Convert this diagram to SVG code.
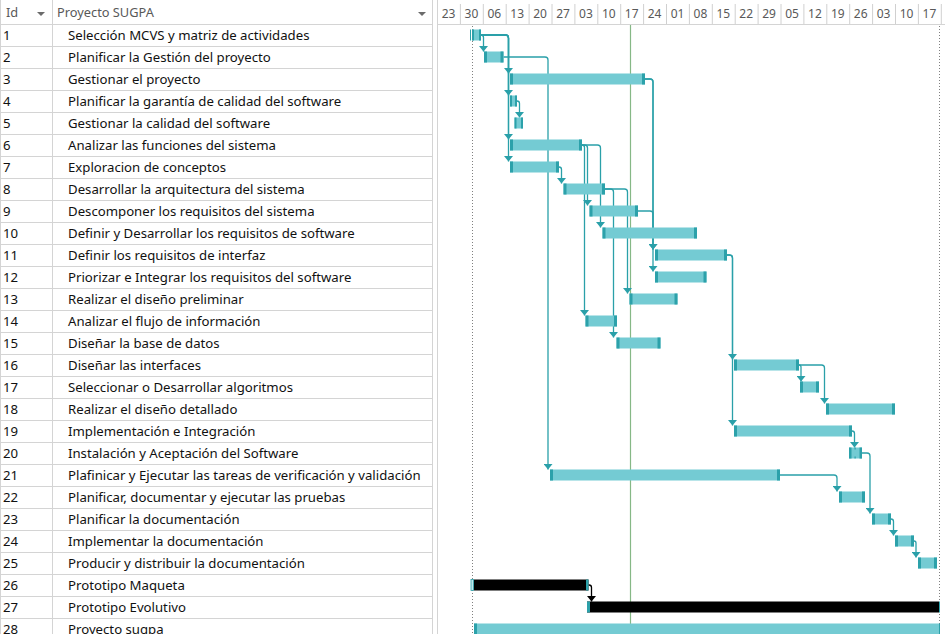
<svg xmlns="http://www.w3.org/2000/svg" width="945" height="634" viewBox="0 0 945 634">
<style>
.bg{fill:#ffffff}
.grid{stroke:#d4d4d4;stroke-width:1;fill:none}
.hdr{font-family:"Noto Sans","Open Sans",sans-serif;font-size:12.8px;fill:#595959}
.wk{font-family:"Noto Sans","Open Sans",sans-serif;font-size:12px;fill:#595959;text-anchor:middle}
.id{font-family:"Noto Sans","Open Sans",sans-serif;font-size:13.2px;fill:#111}
.nm{font-family:"Noto Sans","Open Sans",sans-serif;font-size:13.2px;fill:#111}
.bar{fill:#74cbd3}
.cap{fill:#2ca1aa}
.blk{fill:#000}
.con{stroke:#2aa0a9;stroke-width:1.3;fill:none;marker-end:url(#arr)}
.conb{stroke:#000;stroke-width:1.3;fill:none;marker-end:url(#arrb)}
.dot{stroke:#808080;stroke-width:1;stroke-dasharray:1 2;fill:none}
.today{stroke:#86b886;stroke-width:1.2}
.tick{stroke:#d0d0d0;stroke-width:1}
</style>
<defs>
<marker id="arr" viewBox="0 0 5.5 9" refX="5.5" refY="4.5" markerWidth="5.5" markerHeight="9" markerUnits="userSpaceOnUse" orient="auto"><path d="M0,0 L5.5,4.5 L0,9 z" fill="#2aa0a9"/></marker>
<marker id="arrb" viewBox="0 0 5.5 9" refX="5.5" refY="4.5" markerWidth="5.5" markerHeight="9" markerUnits="userSpaceOnUse" orient="auto"><path d="M0,0 L5.5,4.5 L0,9 z" fill="#000"/></marker>
</defs>
<rect class="bg" x="0" y="0" width="945" height="634"/>

<g id="table">
<line class="grid" x1="0.5" y1="0" x2="0.5" y2="634"/>
<line class="grid" x1="52.5" y1="0" x2="52.5" y2="634"/>
<line class="grid" x1="432.5" y1="0" x2="432.5" y2="634"/>
<line class="grid" x1="437.5" y1="0" x2="437.5" y2="634"/>
<line class="grid" x1="0" y1="24.5" x2="432" y2="24.5"/>
<line class="grid" x1="437" y1="24.5" x2="945" y2="24.5"/>
<g class="grid">
<line x1="0" y1="46.5" x2="432" y2="46.5"/><line x1="0" y1="68.5" x2="432" y2="68.5"/><line x1="0" y1="90.5" x2="432" y2="90.5"/><line x1="0" y1="112.5" x2="432" y2="112.5"/><line x1="0" y1="134.5" x2="432" y2="134.5"/><line x1="0" y1="156.5" x2="432" y2="156.5"/><line x1="0" y1="178.5" x2="432" y2="178.5"/><line x1="0" y1="200.5" x2="432" y2="200.5"/><line x1="0" y1="222.5" x2="432" y2="222.5"/><line x1="0" y1="244.5" x2="432" y2="244.5"/><line x1="0" y1="266.5" x2="432" y2="266.5"/><line x1="0" y1="288.5" x2="432" y2="288.5"/><line x1="0" y1="310.5" x2="432" y2="310.5"/><line x1="0" y1="332.5" x2="432" y2="332.5"/><line x1="0" y1="354.5" x2="432" y2="354.5"/><line x1="0" y1="376.5" x2="432" y2="376.5"/><line x1="0" y1="398.5" x2="432" y2="398.5"/><line x1="0" y1="420.5" x2="432" y2="420.5"/><line x1="0" y1="442.5" x2="432" y2="442.5"/><line x1="0" y1="464.5" x2="432" y2="464.5"/><line x1="0" y1="486.5" x2="432" y2="486.5"/><line x1="0" y1="508.5" x2="432" y2="508.5"/><line x1="0" y1="530.5" x2="432" y2="530.5"/><line x1="0" y1="552.5" x2="432" y2="552.5"/><line x1="0" y1="574.5" x2="432" y2="574.5"/><line x1="0" y1="596.5" x2="432" y2="596.5"/><line x1="0" y1="618.5" x2="432" y2="618.5"/>
</g>
<text class="hdr" x="6" y="17">Id</text>
<path d="M37,12 L45,12 L41,16 z" fill="#6b6b6b"/>
<text class="hdr" x="57" y="17">Proyecto SUGPA</text>
<path d="M418,12 L426,12 L422,16 z" fill="#6b6b6b"/>
<g class="id">
<text x="3" y="40">1</text><text x="3" y="62">2</text><text x="3" y="84">3</text><text x="3" y="106">4</text><text x="3" y="128">5</text><text x="3" y="150">6</text><text x="3" y="172">7</text><text x="3" y="194">8</text><text x="3" y="216">9</text><text x="3" y="238">10</text><text x="3" y="260">11</text><text x="3" y="282">12</text><text x="3" y="304">13</text><text x="3" y="326">14</text><text x="3" y="348">15</text><text x="3" y="370">16</text><text x="3" y="392">17</text><text x="3" y="414">18</text><text x="3" y="436">19</text><text x="3" y="458">20</text><text x="3" y="480">21</text><text x="3" y="502">22</text><text x="3" y="524">23</text><text x="3" y="546">24</text><text x="3" y="568">25</text><text x="3" y="590">26</text><text x="3" y="612">27</text><text x="3" y="633.5">28</text>
</g>
<g class="nm">
<text x="68" y="40">Selección MCVS y matriz de actividades</text>
<text x="68" y="62">Planificar la Gestión del proyecto</text>
<text x="68" y="84">Gestionar el proyecto</text>
<text x="68" y="106">Planificar la garantía de calidad del software</text>
<text x="68" y="128">Gestionar la calidad del software</text>
<text x="68" y="150">Analizar las funciones del sistema</text>
<text x="68" y="172">Exploracion de conceptos</text>
<text x="68" y="194">Desarrollar la arquitectura del sistema</text>
<text x="68" y="216">Descomponer los requisitos del sistema</text>
<text x="68" y="238">Definir y Desarrollar los requisitos de software</text>
<text x="68" y="260">Definir los requisitos de interfaz</text>
<text x="68" y="282">Priorizar e Integrar los requisitos del software</text>
<text x="68" y="304">Realizar el diseño preliminar</text>
<text x="68" y="326">Analizar el flujo de información</text>
<text x="68" y="348">Diseñar la base de datos</text>
<text x="68" y="370">Diseñar las interfaces</text>
<text x="68" y="392">Seleccionar o Desarrollar algoritmos</text>
<text x="68" y="414">Realizar el diseño detallado</text>
<text x="68" y="436">Implementación e Integración</text>
<text x="68" y="458">Instalación y Aceptación del Software</text>
<text x="68" y="480">Plafinicar y Ejecutar las tareas de verificación y validación</text>
<text x="68" y="502">Planificar, documentar y ejecutar las pruebas</text>
<text x="68" y="524">Planificar la documentación</text>
<text x="68" y="546">Implementar la documentación</text>
<text x="68" y="568">Producir y distribuir la documentación</text>
<text x="68" y="590">Prototipo Maqueta</text>
<text x="68" y="612">Prototipo Evolutivo</text>
<text x="68" y="633.5">Proyecto sugpa</text>
</g>
</g>

<g id="timescale">
<g class="tick">
<line x1="460.4" y1="4" x2="460.4" y2="24"/><line x1="483.3" y1="4" x2="483.3" y2="24"/><line x1="506.2" y1="4" x2="506.2" y2="24"/><line x1="529.1" y1="4" x2="529.1" y2="24"/><line x1="552" y1="4" x2="552" y2="24"/><line x1="574.9" y1="4" x2="574.9" y2="24"/><line x1="597.8" y1="4" x2="597.8" y2="24"/><line x1="620.7" y1="4" x2="620.7" y2="24"/><line x1="643.6" y1="4" x2="643.6" y2="24"/><line x1="666.5" y1="4" x2="666.5" y2="24"/><line x1="689.4" y1="4" x2="689.4" y2="24"/><line x1="712.3" y1="4" x2="712.3" y2="24"/><line x1="735.2" y1="4" x2="735.2" y2="24"/><line x1="758.1" y1="4" x2="758.1" y2="24"/><line x1="781" y1="4" x2="781" y2="24"/><line x1="803.9" y1="4" x2="803.9" y2="24"/><line x1="826.8" y1="4" x2="826.8" y2="24"/><line x1="849.7" y1="4" x2="849.7" y2="24"/><line x1="872.6" y1="4" x2="872.6" y2="24"/><line x1="895.5" y1="4" x2="895.5" y2="24"/><line x1="918.4" y1="4" x2="918.4" y2="24"/><line x1="941.3" y1="4" x2="941.3" y2="24"/>
</g>
<g class="wk">
<text x="448.5" y="18">23</text><text x="471.4" y="18">30</text><text x="494.3" y="18">06</text><text x="517.2" y="18">13</text><text x="540.1" y="18">20</text><text x="563" y="18">27</text><text x="585.9" y="18">03</text><text x="608.8" y="18">10</text><text x="631.7" y="18">17</text><text x="654.6" y="18">24</text><text x="677.5" y="18">01</text><text x="700.4" y="18">08</text><text x="723.3" y="18">15</text><text x="746.2" y="18">22</text><text x="769.1" y="18">29</text><text x="792" y="18">05</text><text x="814.9" y="18">12</text><text x="837.8" y="18">19</text><text x="860.7" y="18">26</text><text x="883.6" y="18">03</text><text x="906.5" y="18">10</text><text x="929.4" y="18">17</text>
</g>
<line class="dot" x1="472.5" y1="26" x2="472.5" y2="634"/>
<line class="dot" x1="939.5" y1="26" x2="939.5" y2="634"/>
<line class="today" x1="630.5" y1="25" x2="630.5" y2="634"/>
</g>

<g id="connectors">
<path class="con" d="M481,35 H481 Q483.5,35 483.5,37.5 V51.5"/>
<path class="con" d="M481,35 H505.5 Q508.5,35 508.5,38 V73.5"/>
<path class="con" d="M481,35 H505.5 Q508.5,35 508.5,38 V95.5"/>
<path class="con" d="M481,35 H505.5 Q508.5,35 508.5,38 V139.5"/>
<path class="con" d="M481,35 H505.5 Q508.5,35 508.5,38 V161.5"/>
<path class="con" d="M503.5,57 H545 Q548,57 548,60 V469.5"/>
<path class="con" d="M645,79 H650 Q653,79 653,82 V249.5"/>
<path class="con" d="M645,79 H650 Q653,79 653,82 V271.5"/>
<path class="con" d="M517,101 H517 Q519.5,101 519.5,103.5 V117.5"/>
<path class="con" d="M582,145 H582 Q584.5,145 584.5,147.5 V315.5"/>
<path class="con" d="M582,145 H584.5 Q587.5,145 587.5,148 V205.5"/>
<path class="con" d="M582,145 H597.5 Q600.5,145 600.5,148 V227.5"/>
<path class="con" d="M559,167 H559 Q561.5,167 561.5,169.5 V183.5"/>
<path class="con" d="M605,189 H610.5 Q613.5,189 613.5,192 V337.5"/>
<path class="con" d="M605,189 H624.5 Q627.5,189 627.5,192 V293.5"/>
<path class="con" d="M638,211 H650 Q653,211 653,214 V249.5"/>
<path class="con" d="M727,255 H729.5 Q732.5,255 732.5,258 V359.5"/>
<path class="con" d="M727,255 H729.5 Q732.5,255 732.5,258 V425.5"/>
<path class="con" d="M799,365 H799 Q801,365 801,367 V381.5"/>
<path class="con" d="M799,365 H821.5 Q824.5,365 824.5,368 V403.5"/>
<path class="con" d="M852,431 H852 Q854.5,431 854.5,433.5 V447.5"/>
<path class="con" d="M862,453 H867 Q870,453 870,456 V513.5"/>
<path class="con" d="M780,475 H834 Q837,475 837,478 V491.5"/>
<path class="con" d="M891,519 H891 Q893.5,519 893.5,521.5 V535.5"/>
<path class="con" d="M914,541 H914 Q916,541 916,543 V557.5"/>
<path class="conb" d="M588.5,585 H589 Q591.5,585 591.5,587.5 V601.5"/>
</g>

<g id="t1"><rect class="bar" x="472" y="29.5" width="9" height="11"/><rect class="cap" x="472" y="29.5" width="2" height="11"/><rect class="cap" x="479" y="29.5" width="2" height="11"/><line x1="470.5" y1="29.5" x2="470.5" y2="40.5" stroke="#2ca1aa" stroke-width="1"/></g>
<g id="t2"><rect class="bar" x="484" y="51.5" width="19.5" height="11"/><rect class="cap" x="484" y="51.5" width="3" height="11"/><rect class="cap" x="500.5" y="51.5" width="3" height="11"/></g>
<g id="t3"><rect class="bar" x="510" y="73.5" width="135" height="11"/><rect class="cap" x="510" y="73.5" width="3" height="11"/><rect class="cap" x="642" y="73.5" width="3" height="11"/></g>
<g id="t4"><rect class="bar" x="510" y="95.5" width="7" height="11"/><rect class="cap" x="510" y="95.5" width="2" height="11"/><rect class="cap" x="515" y="95.5" width="2" height="11"/></g>
<g id="t5"><rect class="bar" x="514.5" y="117.5" width="8.5" height="11"/><rect class="cap" x="514.5" y="117.5" width="2" height="11"/><rect class="cap" x="521" y="117.5" width="2" height="11"/></g>
<g id="t6"><rect class="bar" x="510" y="139.5" width="72" height="11"/><rect class="cap" x="510" y="139.5" width="3" height="11"/><rect class="cap" x="579" y="139.5" width="3" height="11"/></g>
<g id="t7"><rect class="bar" x="510" y="161.5" width="49" height="11"/><rect class="cap" x="510" y="161.5" width="3" height="11"/><rect class="cap" x="556" y="161.5" width="3" height="11"/></g>
<g id="t8"><rect class="bar" x="563.5" y="183.5" width="41.5" height="11"/><rect class="cap" x="563.5" y="183.5" width="3" height="11"/><rect class="cap" x="602" y="183.5" width="3" height="11"/></g>
<g id="t9"><rect class="bar" x="589.5" y="205.5" width="48.5" height="11"/><rect class="cap" x="589.5" y="205.5" width="3" height="11"/><rect class="cap" x="635" y="205.5" width="3" height="11"/></g>
<g id="t10"><rect class="bar" x="602.5" y="227.5" width="94.5" height="11"/><rect class="cap" x="602.5" y="227.5" width="3" height="11"/><rect class="cap" x="694" y="227.5" width="3" height="11"/></g>
<g id="t11"><rect class="bar" x="655" y="249.5" width="72" height="11"/><rect class="cap" x="655" y="249.5" width="3" height="11"/><rect class="cap" x="724" y="249.5" width="3" height="11"/></g>
<g id="t12"><rect class="bar" x="655" y="271.5" width="51.5" height="11"/><rect class="cap" x="655" y="271.5" width="3" height="11"/><rect class="cap" x="703.5" y="271.5" width="3" height="11"/></g>
<g id="t13"><rect class="bar" x="629.5" y="293.5" width="48" height="11"/><rect class="cap" x="629.5" y="293.5" width="3" height="11"/><rect class="cap" x="674.5" y="293.5" width="3" height="11"/></g>
<g id="t14"><rect class="bar" x="585.5" y="315.5" width="31.5" height="11"/><rect class="cap" x="585.5" y="315.5" width="3" height="11"/><rect class="cap" x="614" y="315.5" width="3" height="11"/></g>
<g id="t15"><rect class="bar" x="616.5" y="337.5" width="44" height="11"/><rect class="cap" x="616.5" y="337.5" width="3" height="11"/><rect class="cap" x="657.5" y="337.5" width="3" height="11"/></g>
<g id="t16"><rect class="bar" x="734" y="359.5" width="65" height="11"/><rect class="cap" x="734" y="359.5" width="3" height="11"/><rect class="cap" x="796" y="359.5" width="3" height="11"/></g>
<g id="t17"><rect class="bar" x="800" y="381.5" width="19" height="11"/><rect class="cap" x="800" y="381.5" width="3" height="11"/><rect class="cap" x="816" y="381.5" width="3" height="11"/></g>
<g id="t18"><rect class="bar" x="826" y="403.5" width="69" height="11"/><rect class="cap" x="826" y="403.5" width="3" height="11"/><rect class="cap" x="892" y="403.5" width="3" height="11"/></g>
<g id="t19"><rect class="bar" x="734" y="425.5" width="118" height="11"/><rect class="cap" x="734" y="425.5" width="3" height="11"/><rect class="cap" x="849" y="425.5" width="3" height="11"/></g>
<g id="t20"><rect class="bar" x="849" y="447.5" width="13" height="11"/><rect class="cap" x="849" y="447.5" width="2.5" height="11"/><rect class="cap" x="859.5" y="447.5" width="2.5" height="11"/><rect class="cap" x="854.5" y="447.5" width="1.2" height="2"/><rect class="cap" x="854.5" y="456.5" width="1.2" height="2"/></g>
<g id="t21"><rect class="bar" x="550" y="469.5" width="230" height="11"/><rect class="cap" x="550" y="469.5" width="3" height="11"/><rect class="cap" x="777" y="469.5" width="3" height="11"/></g>
<g id="t22"><rect class="bar" x="839" y="491.5" width="26" height="11"/><rect class="cap" x="839" y="491.5" width="3" height="11"/><rect class="cap" x="862" y="491.5" width="3" height="11"/></g>
<g id="t23"><rect class="bar" x="872" y="513.5" width="19" height="11"/><rect class="cap" x="872" y="513.5" width="3" height="11"/><rect class="cap" x="888" y="513.5" width="3" height="11"/></g>
<g id="t24"><rect class="bar" x="895" y="535.5" width="19" height="11"/><rect class="cap" x="895" y="535.5" width="3" height="11"/><rect class="cap" x="911" y="535.5" width="3" height="11"/></g>
<g id="t25"><rect class="bar" x="918" y="557.5" width="19" height="11"/><rect class="cap" x="918" y="557.5" width="3" height="11"/><rect class="cap" x="934" y="557.5" width="3" height="11"/></g>
<g id="t26"><rect class="blk" x="473.5" y="579.5" width="115" height="11"/><rect class="cap" x="586" y="579.5" width="2.5" height="11"/><rect x="471" y="579.5" width="2.5" height="11" fill="#bfe6ea" stroke="#2ca1aa" stroke-width="0.8"/></g>
<g id="t27"><rect class="blk" x="587" y="601.5" width="352" height="11"/><rect class="cap" x="587" y="601.5" width="3" height="11"/><line x1="939.5" y1="601.5" x2="939.5" y2="612.5" stroke="#2ca1aa" stroke-width="1"/></g>
<g id="t28"><rect class="bar" x="474" y="623.5" width="465" height="11"/><rect class="cap" x="474" y="623.5" width="3" height="11"/><line x1="939.5" y1="623.5" x2="939.5" y2="634" stroke="#2ca1aa" stroke-width="1"/></g>
</svg>
